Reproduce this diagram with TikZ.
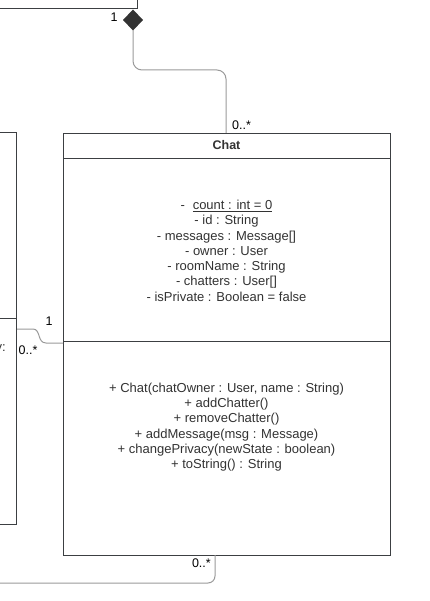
\documentclass[tikz,border=0pt]{standalone}
\usepackage{fontspec}
\setmainfont{Liberation Sans}
\usetikzlibrary{arrows.meta}
\definecolor{ink}{HTML}{333333}
\definecolor{edge}{HTML}{3C3F42}
\definecolor{wire}{HTML}{9A9A9A}
\begin{document}
\begin{tikzpicture}[x=1pt,y=-1pt,
  classbox/.style={draw=edge, line width=1.2pt, fill=white, inner sep=0pt},
  sepline/.style={draw=edge, line width=0.9pt},
  wireline/.style={draw=wire, line width=1pt},
  member/.style={text=ink, font=\fontsize{13}{15}\selectfont, inner sep=0pt, anchor=base},
  mult/.style={text=black, font=\fontsize{12.5}{14}\selectfont, inner sep=0pt}]
\useasboundingbox (0,0) rectangle (429,601);
\begin{scope}
\clip (0,0) rectangle (429,601);

% classes partly outside the frame
\node[classbox, minimum width=160pt, minimum height=30pt, anchor=south east] (owner) at (138,9) {};
\node[classbox, minimum width=40pt, minimum height=392pt, anchor=north east] (user) at (17,132) {};
\draw[sepline] (user.west |- 0,318) -- (user.east |- 0,318);
\node[member, anchor=base east] (userfrag) at (6,351) {y:};

% Chat class
\node[classbox, minimum width=327pt, minimum height=422pt, anchor=north west] (chat) at (63,133) {};
\draw[sepline] (chat.west |- 0,158.5) -- (chat.east |- 0,158.5);
\draw[sepline] (chat.west |- 0,341) -- (chat.east |- 0,341);
\node[member, font=\bfseries\fontsize{12.5}{14}\selectfont] (title) at (226.5,150) {Chat};

% attributes
\node[member] (a1) at (226.5,210) {-\hspace{0.6em}\underline{count : int = 0}};
\node[member] (a2) at (226.5,225) {- id : String};
\node[member] (a3) at (226.5,240.2) {- messages : Message[]};
\node[member] (a4) at (226.5,255.4) {- owner : User};
\node[member] (a5) at (226.5,270.6) {- roomName : String};
\node[member] (a6) at (226.5,285.8) {- chatters : User[]};
\node[member] (a7) at (226.5,301) {- isPrivate : Boolean = false};

% operations
\node[member] (m1) at (226.5,392.5) {+ Chat(chatOwner : User, name : String)};
\node[member] (m2) at (226.5,407.7) {+ addChatter()};
\node[member] (m3) at (226.5,422.9) {+ removeChatter()};
\node[member] (m4) at (226.5,438.1) {+ addMessage(msg : Message)};
\node[member] (m5) at (226.5,453.3) {+ changePrivacy(newState : boolean)};
\node[member] (m6) at (226.5,468.5) {+ toString() : String};

% composition from the owner class
\coordinate (compo) at (133,9.5);
\coordinate (chattop) at (226,133);
\draw[wireline, rounded corners=9pt,
  {Diamond[length=21pt,width=20pt,fill=ink,color=ink,line width=0pt]}-]
  (compo) -- (compo |- 0,70) -- (chattop |- 0,70) -- (chattop);
\node[mult] (m-one) at (114,17.5) {1};
\node[mult, anchor=south west] (m-many) at (232,130) {0..*};

% association with the class on the left
\coordinate (uright) at (user.east |- 0,329);
\coordinate (cleft) at (chat.west |- 0,343);
\draw[wireline] (uright) -- (33,329) .. controls (41,329) and (37,343) .. (46,343) -- (cleft);
\node[mult] (l-one) at (49,321) {1};
\node[mult, anchor=west] (l-many) at (18.5,350) {0..*};

% association leaving the bottom of Chat
\coordinate (cbot) at (215,555);
\draw[wireline, rounded corners=7pt] (cbot) -- (cbot |- 0,583) -- (-5,583);
\node[mult, anchor=east] (b-many) at (211,563) {0..*};
\end{scope}
\end{tikzpicture}
\end{document}
